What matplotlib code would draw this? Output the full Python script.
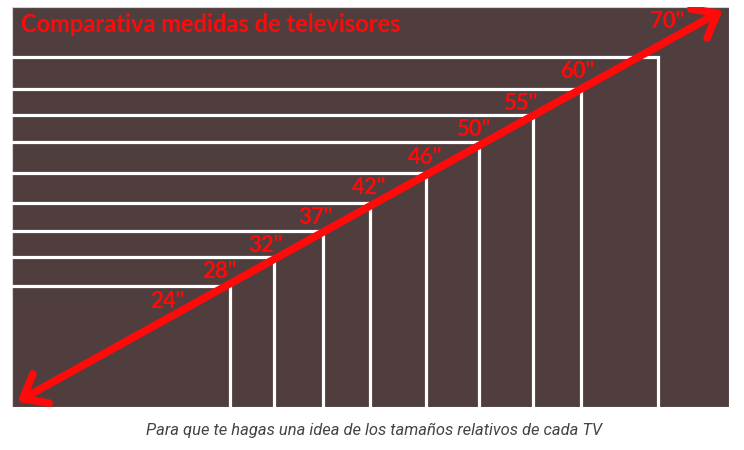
import matplotlib.pyplot as plt
from matplotlib.patches import Rectangle, FancyArrowPatch

# tamaños de TV y sus dimensiones (px de la imagen original, desde la esquina inferior izquierda)
SIZES = ['24"', '28"', '32"', '37"', '42"', '46"', '50"', '55"', '60"', '70"']
WIDTHS = [218, 262, 311, 358, 414, 467, 521, 569, 646, 717]
HEIGHTS = [121, 150, 176, 204, 234, 265, 292, 318, 350, 400]

TITLE = 'Comparativa medidas de televisores'
CAPTION = 'Para que te hagas una idea de los tamaños relativos de cada TV'

BG = '#4f3e3d'
RED = '#ff0a0a'

fig = plt.figure(figsize=(7.44, 4.5), dpi=100)
fig.patch.set_facecolor('white')
ax = fig.add_axes([12 / 744, 43 / 450, 717 / 744, 400 / 450])
ax.set_xlim(0, WIDTHS[-1])
ax.set_ylim(0, HEIGHTS[-1])
ax.axis('off')

# el 70" es el fondo completo
ax.add_patch(Rectangle((0, 0), WIDTHS[-1], HEIGHTS[-1], facecolor=BG,
                       edgecolor='#d8d2d0', linewidth=0.8, zorder=1))

# resto de televisores: solo borde superior y derecho en blanco
for w, h in zip(WIDTHS[:-1], HEIGHTS[:-1]):
    ax.plot([0, w, w], [h, h, 0], color='white', lw=2.3,
            solid_joinstyle='miter', zorder=2, clip_on=False)

# flecha diagonal
arrow = FancyArrowPatch((3, 4), (WIDTHS[-1] - 4, HEIGHTS[-1] - 2),
                        arrowstyle='<->,head_length=1.0,head_width=0.8',
                        mutation_scale=15, color=RED, lw=5.5,
                        capstyle='round', joinstyle='round', zorder=4)
ax.add_patch(arrow)

# etiquetas a lo largo de la diagonal
slope = WIDTHS[-1] / HEIGHTS[-1]
for label, h in zip(SIZES, HEIGHTS):
    y = h - 15
    x = y * slope - 35
    ax.text(x, y, label, color=RED, fontsize=16, fontfamily='Lato',
            fontweight='bold', ha='center', va='center', zorder=5)

fig.text(21 / 744, 1 - 24 / 450, TITLE, color=RED, fontsize=17.1,
         fontfamily='Lato', fontweight='bold', ha='left', va='center')

fig.text(374 / 744, 1 - 430 / 450, CAPTION, color='#444444', fontsize=11.9,
         fontfamily='Roboto', fontstyle='italic', ha='center', va='center')

fig.savefig('out.png', dpi=100)
